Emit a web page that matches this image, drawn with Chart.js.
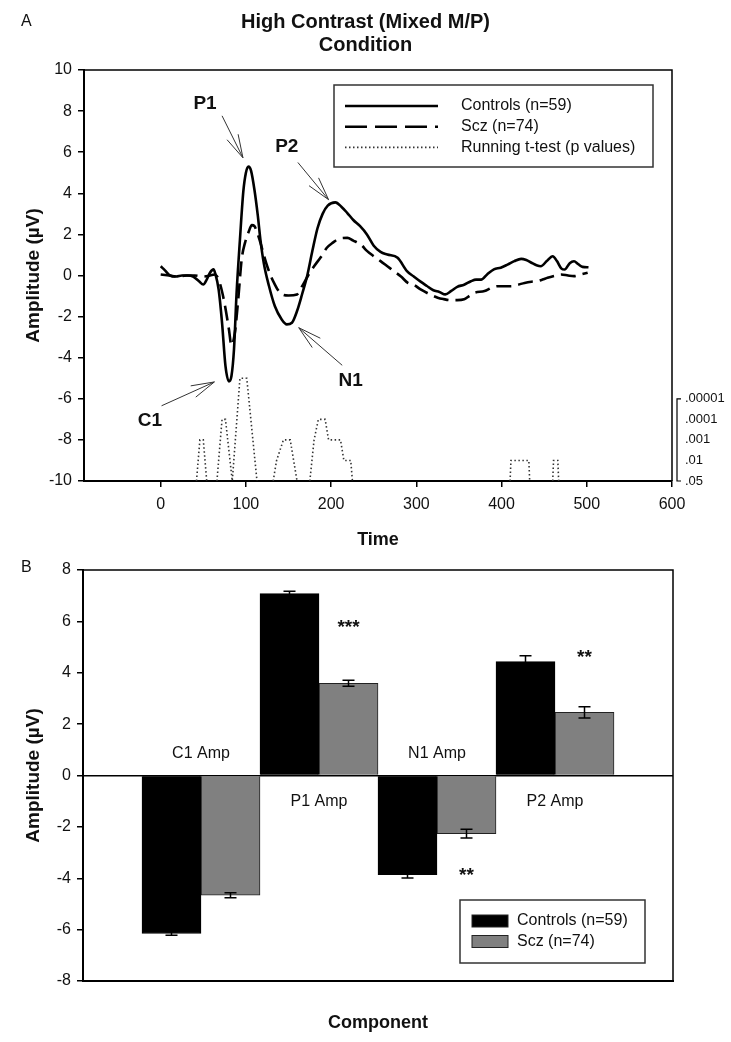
<!doctype html>
<html>

<head>
	<title>High Contrast (Mixed M/P) Condition</title>
	<script src="https://cdn.jsdelivr.net/npm/chart.js@4.4.1/dist/chart.umd.min.js"></script>
	<style>
	body {
		margin: 0;
		background: #fff;
	}
	.page {
		position: relative;
		width: 731px;
		height: 1042px;
	}
	#erp {
		position: absolute;
		left: 0;
		top: 0;
	}
	#amp {
		position: absolute;
		left: 0;
		top: 540px;
	}
	</style>
</head>

<body>
	<div class="page">
		<canvas id="erp" width="731" height="560"></canvas>
		<canvas id="amp" width="731" height="502"></canvas>
	</div>
	<script>
		// panel A: grand average waveforms (ms, microvolts)
		var ctrlTime = [0, 5, 11, 18, 25, 32, 38, 45, 50, 54, 58, 62, 64, 68, 72, 76, 80, 83, 86, 89, 93, 97, 100, 103, 106, 110, 114, 117, 121, 127, 134, 142, 148, 154, 160, 166, 172, 178, 184, 190, 196, 205, 212, 219, 226, 234, 242, 250, 258, 266, 278, 289, 297, 305, 312, 320, 327, 334, 341, 348, 356, 364, 370, 376, 383, 391, 399, 407, 415, 423, 429, 435, 441, 446, 453, 460, 465, 470, 474, 480, 485, 490, 495, 502];
		var ctrlAmp = [0.45, 0.25, 0.0, -0.05, 0.0, 0.0, -0.05, -0.28, -0.44, -0.2, 0.15, 0.3, 0.1, -0.68, -2.3, -4.4, -5.15, -4.9, -3.6, -0.9, 1.75, 4.1, 5.0, 5.3, 5.1, 4.17, 2.9, 1.75, 0.6, -0.5, -1.5, -2.14, -2.38, -2.3, -1.73, -0.9, 0.0, 1.2, 2.3, 3.0, 3.4, 3.56, 3.35, 3.04, 2.7, 2.4, 2.0, 1.45, 1.15, 1.02, 0.86, 0.21, -0.05, -0.3, -0.5, -0.72, -0.8, -0.92, -0.75, -0.55, -0.45, -0.28, -0.2, -0.2, 0.05, 0.3, 0.38, 0.53, 0.7, 0.81, 0.75, 0.62, 0.5, 0.45, 0.7, 0.94, 0.7, 0.35, 0.29, 0.6, 0.69, 0.55, 0.42, 0.4];
		var sczTime = [0, 10, 20, 30, 40, 50, 58, 63, 68, 74, 80, 83, 87, 91, 95, 99, 103, 107, 110, 114, 117, 121, 125, 129, 133, 140, 150, 160, 166, 173, 180, 188, 195, 202, 210, 219, 226, 235, 242, 250, 258, 266, 274, 282, 290, 297, 305, 315, 325, 332, 340, 348, 356, 362, 368, 380, 388, 395, 403, 411, 419, 427, 435, 442, 448, 454, 462, 470, 478, 485, 493, 501];
		var sczAmp = [0.05, 0.0, -0.05, 0.0, 0.0, -0.05, 0.0, 0.05, -0.2, -1.16, -2.6, -3.4, -2.8, -1.16, 0.78, 1.6, 2.1, 2.45, 2.4, 2.0, 1.6, 1.0, 0.45, 0.0, -0.36, -0.84, -0.97, -0.92, -0.52, 0.0, 0.45, 0.9, 1.35, 1.6, 1.8, 1.83, 1.7, 1.5, 1.2, 0.94, 0.7, 0.45, 0.2, -0.05, -0.36, -0.45, -0.68, -0.9, -1.08, -1.15, -1.2, -1.2, -1.16, -1.0, -0.84, -0.76, -0.6, -0.52, -0.52, -0.52, -0.45, -0.36, -0.3, -0.27, -0.2, -0.11, -0.02, 0.05, 0.0, -0.03, 0.05, 0.13];
		// running t-test: level 0 = .05 ... 4 = .00001 (null = no trace)
		var pTime = [42, 46, 50, 54, 60, 66, 72, 76, 84, 93, 101, 113, 120, 132, 136, 144, 152, 156, 160, 168, 175, 180, 185, 193, 197, 211, 215, 223, 225, 300, 410, 411, 432, 433, 445, 460, 461, 466, 467];
		var pLevel = [0, 2, 2, 0, null, 0, 3, 3, 0, 5, 5, 0, null, 0, 1, 2, 2, 1, 0, null, 0, 2, 3, 3, 2, 2, 1, 1, 0, null, 0, 1, 1, 0, null, 0, 1, 1, 0];
		var pLabels = ['.05', '.01', '.001', '.0001', '.00001'];
		var timeTicks = [0, 100, 200, 300, 400, 500, 600];

		// peak annotations: [time, amplitude]
		var peakNames = ['P1', 'P2', 'N1', 'C1'];
		var peakLabelAt = [[52, 8.35], [148, 6.28], [223, -5.13], [-12.6, -7.07]];
		var arrowFrom = [[72, 7.77], [161, 5.5], [213, -4.37], [1, -6.34]];
		var arrowTo = [[96.5, 5.73], [197, 3.69], [162, -2.54], [63, -5.18]];

		// panel B: component amplitudes
		var components = ['C1 Amp', 'P1 Amp', 'N1 Amp', 'P2 Amp'];
		var ctrlBar = [-6.15, 7.08, -3.86, 4.43];
		var ctrlErr = [0.07, 0.09, 0.13, 0.23];
		var sczBar = [-4.66, 3.59, -2.26, 2.46];
		var sczErr = [0.1, 0.12, 0.17, 0.22];
		var stars = ['', '***', '**', '**'];
		var starAt = [null, 5.9, -3.75, 4.75];

		var FONT = '"Liberation Sans", Arial, Helvetica, sans-serif';
		Chart.defaults.font.family = FONT;
		Chart.defaults.color = '#111';

		function toPoints(xs, ys) {
			return xs.map(function(x, i) {
				return {x: x, y: ys[i]};
			});
		}

		function arrow(ctx, x1, y1, x2, y2) {
			var a = Math.atan2(y2 - y1, x2 - x1);
			var len = 24, spread = 0.26;
			ctx.beginPath();
			ctx.moveTo(x1, y1);
			ctx.lineTo(x2, y2);
			ctx.moveTo(x2 - len * Math.cos(a - spread), y2 - len * Math.sin(a - spread));
			ctx.lineTo(x2, y2);
			ctx.lineTo(x2 - len * Math.cos(a + spread), y2 - len * Math.sin(a + spread));
			ctx.stroke();
		}

		var erpDecor = {
			id: 'erpDecor',
			afterDraw: function(chart) {
				var ctx = chart.ctx;
				var area = chart.chartArea;
				var x = chart.scales.x, y = chart.scales.y, yP = chart.scales.yP;
				ctx.save();
				// frame top + right
				ctx.strokeStyle = '#000';
				ctx.lineWidth = 1.5;
				ctx.beginPath();
				ctx.moveTo(area.left, area.top);
				ctx.lineTo(area.right, area.top);
				ctx.lineTo(area.right, area.bottom);
				ctx.stroke();

				// p-value bracket
				var bx = area.right + 5;
				var bTop = yP.getPixelForValue(pLabels.length - 1);
				var bBot = yP.getPixelForValue(0);
				ctx.lineWidth = 1.2;
				ctx.beginPath();
				ctx.moveTo(bx + 4, bTop);
				ctx.lineTo(bx, bTop);
				ctx.lineTo(bx, bBot);
				ctx.lineTo(bx + 4, bBot);
				ctx.stroke();

				// peak labels and arrows
				ctx.strokeStyle = '#333';
				ctx.lineWidth = 1;
				ctx.fillStyle = '#111';
				ctx.font = 'bold 19px ' + FONT;
				ctx.textAlign = 'center';
				ctx.textBaseline = 'middle';
				peakNames.forEach(function(name, i) {
					ctx.fillText(name, x.getPixelForValue(peakLabelAt[i][0]), y.getPixelForValue(peakLabelAt[i][1]));
					arrow(ctx,
						x.getPixelForValue(arrowFrom[i][0]), y.getPixelForValue(arrowFrom[i][1]),
						x.getPixelForValue(arrowTo[i][0]), y.getPixelForValue(arrowTo[i][1]));
				});

				// legend
				var lx = 334, ly = 85, lw = 319, lh = 82;
				ctx.strokeStyle = '#333';
				ctx.lineWidth = 1.5;
				ctx.strokeRect(lx, ly, lw, lh);
				ctx.font = '16px ' + FONT;
				ctx.textAlign = 'left';
				chart.data.datasets.forEach(function(ds, i) {
					var ry = ly + 21 + i * 20.7;
					ctx.save();
					ctx.strokeStyle = ds.borderColor;
					ctx.lineWidth = ds.borderWidth;
					ctx.setLineDash(i === 1 ? [22, 8] : (ds.borderDash || []));
					ctx.beginPath();
					ctx.moveTo(lx + 11, ry);
					ctx.lineTo(lx + 104, ry);
					ctx.stroke();
					ctx.restore();
					ctx.fillText(ds.label, lx + 127, ry);
				});

				// panel letter
				ctx.font = '16px ' + FONT;
				ctx.fillText('A', 21, 22);
				ctx.restore();
			}
		};

		var erpChart = new Chart(document.getElementById('erp').getContext('2d'), {
			type: 'line',
			data: {
				datasets: [{
					label: 'Controls (n=59)',
					data: toPoints(ctrlTime, ctrlAmp),
					borderColor: '#000',
					borderWidth: 2.6,
					pointRadius: 0,
					cubicInterpolationMode: 'monotone',
					fill: false
				}, {
					label: 'Scz (n=74)',
					data: toPoints(sczTime, sczAmp),
					borderColor: '#000',
					borderWidth: 2.6,
					borderDash: [15, 7],
					pointRadius: 0,
					cubicInterpolationMode: 'monotone',
					fill: false
				}, {
					label: 'Running t-test (p values)',
					data: toPoints(pTime, pLevel),
					yAxisID: 'yP',
					borderColor: '#333',
					borderWidth: 1.6,
					borderDash: [1.5, 2.5],
					pointRadius: 0,
					tension: 0,
					spanGaps: false,
					fill: false
				}]
			},
			options: {
				responsive: false,
				animation: false,
				events: [],
				layout: {padding: 0},
				plugins: {
					legend: {display: false},
					tooltip: {enabled: false},
					title: {
						display: true,
						text: ['High Contrast (Mixed M/P)', 'Condition'],
						font: {size: 20, weight: 'bold', lineHeight: 1.15},
						color: '#111',
						padding: {top: 11, bottom: 13}
					}
				},
				scales: {
					x: {
						type: 'linear',
						min: -90,
						max: 600,
						afterBuildTicks: function(scale) {
							scale.ticks = timeTicks.map(function(v) {
								return {value: v};
							});
						},
						grid: {display: true, drawOnChartArea: false, tickLength: 6, color: '#000', lineWidth: 1.5},
						border: {display: true, color: '#000', width: 2},
						ticks: {padding: 8, font: {size: 16}, maxRotation: 0},
						title: {display: true, text: 'Time', font: {size: 18, weight: 'bold'}, padding: {top: 0, bottom: 9}},
						afterFit: function(scale) {
							scale.height = 79;
						}
					},
					y: {
						position: 'left',
						min: -10,
						max: 10,
						ticks: {stepSize: 2, padding: 6, font: {size: 16}},
						grid: {display: true, drawOnChartArea: false, tickLength: 6, color: '#000', lineWidth: 1.5},
						border: {display: true, color: '#000', width: 2},
						title: {display: true, text: 'Amplitude (\u00b5V)', font: {size: 19, weight: 'bold'}, padding: {top: 22, bottom: 0}},
						afterFit: function(scale) {
							scale.width = 84;
						}
					},
					yP: {
						position: 'right',
						min: 0,
						max: 20,
						afterBuildTicks: function(scale) {
							scale.ticks = pLabels.map(function(l, i) {
								return {value: i};
							});
						},
						ticks: {
							padding: 13,
							font: {size: 13},
							callback: function(v) {
								return pLabels[v];
							}
						},
						grid: {display: false, drawTicks: false},
						border: {display: false},
						afterFit: function(scale) {
							scale.width = 59;
						}
					}
				}
			},
			plugins: [erpDecor]
		});

		var ampDecor = {
			id: 'ampDecor',
			afterDatasetsDraw: function(chart) {
				var ctx = chart.ctx;
				var area = chart.chartArea;
				var x = chart.scales.x, y = chart.scales.y;
				var errs = [ctrlErr, sczErr];
				ctx.save();
				// error bars
				ctx.strokeStyle = '#000';
				ctx.lineWidth = 1.5;
				chart.data.datasets.forEach(function(ds, d) {
					chart.getDatasetMeta(d).data.forEach(function(el, i) {
						var v = ds.data[i];
						if (v === null) return;
						var e = errs[d][i - 1];
						var y1 = y.getPixelForValue(v + e), y2 = y.getPixelForValue(v - e);
						ctx.beginPath();
						ctx.moveTo(el.x, y1);
						ctx.lineTo(el.x, y2);
						ctx.moveTo(el.x - 6, y1);
						ctx.lineTo(el.x + 6, y1);
						ctx.moveTo(el.x - 6, y2);
						ctx.lineTo(el.x + 6, y2);
						ctx.stroke();
					});
				});

				// frame top + right
				ctx.lineWidth = 1.5;
				ctx.beginPath();
				ctx.moveTo(area.left, area.top);
				ctx.lineTo(area.right, area.top);
				ctx.lineTo(area.right, area.bottom);
				ctx.stroke();

				// component names next to zero line, significance stars
				var zero = y.getPixelForValue(0);
				var sczMeta = chart.getDatasetMeta(1);
				ctx.fillStyle = '#111';
				ctx.textAlign = 'center';
				ctx.textBaseline = 'middle';
				components.forEach(function(name, i) {
					var cx = x.getPixelForValue(i + 1);
					var below = ctrlBar[i] > 0;
					ctx.font = '16px ' + FONT;
					ctx.fillText(name, cx, below ? zero + 26 : zero - 22);
					if (stars[i]) {
						ctx.font = 'bold 19px ' + FONT;
						ctx.fillText(stars[i], sczMeta.data[i + 1].x, y.getPixelForValue(starAt[i]) + 4);
					}
				});

				// legend
				var lx = 460, ly = 360, lw = 185, lh = 63;
				ctx.strokeStyle = '#333';
				ctx.lineWidth = 1.5;
				ctx.strokeRect(lx, ly, lw, lh);
				ctx.font = '16px ' + FONT;
				ctx.textAlign = 'left';
				chart.data.datasets.forEach(function(ds, i) {
					var ry = ly + 21 + i * 20.5;
					ctx.fillStyle = ds.backgroundColor;
					ctx.fillRect(lx + 12, ry - 6, 36, 12);
					ctx.lineWidth = 1;
					ctx.strokeStyle = '#222';
					ctx.strokeRect(lx + 12, ry - 6, 36, 12);
					ctx.fillStyle = '#111';
					ctx.fillText(ds.label, lx + 57, ry);
				});

				ctx.font = '16px ' + FONT;
				ctx.fillText('B', 21, 28);
				ctx.restore();
			}
		};

		var ampChart = new Chart(document.getElementById('amp').getContext('2d'), {
			type: 'bar',
			data: {
				labels: [''].concat(components, ['']),
				datasets: [{
					label: 'Controls (n=59)',
					data: [null].concat(ctrlBar, [null]),
					backgroundColor: '#000',
					borderColor: '#000',
					borderWidth: 1,
					categoryPercentage: 1,
					barPercentage: 1
				}, {
					label: 'Scz (n=74)',
					data: [null].concat(sczBar, [null]),
					backgroundColor: '#808080',
					borderColor: '#222',
					borderWidth: 1,
					categoryPercentage: 1,
					barPercentage: 1
				}]
			},
			options: {
				responsive: false,
				animation: false,
				events: [],
				layout: {padding: {top: 30, right: 58, left: 0, bottom: 0}},
				plugins: {
					legend: {display: false},
					tooltip: {enabled: false},
					title: {display: false}
				},
				scales: {
					x: {
						offset: false,
						grid: {display: false},
						border: {display: true, color: '#000', width: 2},
						ticks: {display: false},
						title: {display: true, text: 'Component', font: {size: 18, weight: 'bold'}, padding: {top: 0, bottom: 8}},
						afterFit: function(scale) {
							scale.height = 61;
						}
					},
					y: {
						min: -8,
						max: 8,
						ticks: {stepSize: 2, padding: 6, font: {size: 16}},
						grid: {
							display: true,
							drawOnChartArea: true,
							tickLength: 6,
							lineWidth: 1.5,
							tickColor: '#000',
							color: function(c) {
								return c.tick && c.tick.value === 0 ? '#000' : 'rgba(0,0,0,0)';
							}
						},
						border: {display: true, color: '#000', width: 2},
						title: {display: true, text: 'Amplitude (\u00b5V)', font: {size: 19, weight: 'bold'}, padding: {top: 22, bottom: 0}},
						afterFit: function(scale) {
							scale.width = 83;
						}
					}
				}
			},
			plugins: [ampDecor]
		});
	</script>
</body>

</html>
